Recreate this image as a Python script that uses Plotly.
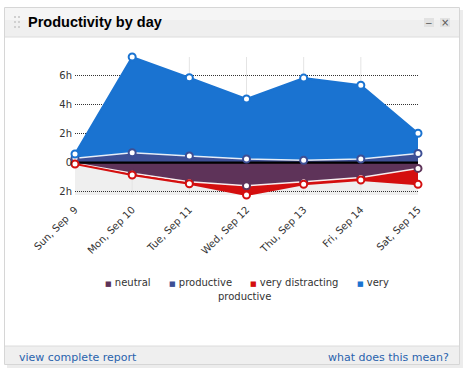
import plotly.graph_objects as go

# ---- data (hours) ----
days = ["Sun, Sep\u00a0 9", "Mon, Sep 10", "Tue, Sep 11", "Wed, Sep 12",
        "Thu, Sep 13", "Fri, Sep 14", "Sat, Sep 15"]
neutral = [0.05, 0.74, 1.33, 1.60, 1.33, 1.03, 0.40]
productive = [0.30, 0.69, 0.46, 0.25, 0.16, 0.25, 0.64]
very_distracting = [0.05, 0.12, 0.13, 0.64, 0.17, 0.17, 1.10]
very_productive = [0.30, 6.62, 5.42, 4.15, 5.69, 5.11, 1.39]
ytick_vals = [-2, 0, 2, 4, 6]
ytick_text = ["2h", "0", "2h", "4h", "6h"]

C_NEU = "#5e3359"
C_PRO = "#3d4f95"
C_VD = "#d40f0f"
C_VP = "#1a73d1"

# stacked cumulative values
pos1 = productive
pos2 = [a + b for a, b in zip(productive, very_productive)]
neg1 = [-a for a in neutral]
neg2 = [-(a + b) for a, b in zip(neutral, very_distracting)]
zero = [0 for _ in days]

W, H = 466, 374
L, R, T, B = 75, 48, 57, 179
PW, PH = W - L - R, H - T - B


def px(x):
    return (x - L) / PW


def py(y):
    return (H - B - y) / PH


fig = go.Figure()
# areas
fig.add_trace(go.Scatter(x=days, y=pos1, mode="lines", fill="tozeroy",
                         fillcolor=C_PRO, line=dict(color="rgba(255,255,255,0.85)", width=1.5)))
fig.add_trace(go.Scatter(x=days, y=pos2, mode="lines", fill="tonexty",
                         fillcolor=C_VP, line=dict(color=C_VP, width=2)))
fig.add_trace(go.Scatter(x=days, y=neg1, mode="lines", fill="tozeroy",
                         fillcolor=C_NEU, line=dict(color="rgba(255,255,255,0.9)", width=1.5)))
fig.add_trace(go.Scatter(x=days, y=neg2, mode="lines", fill="tonexty",
                         fillcolor=C_VD, line=dict(color=C_VD, width=2)))
# zero line
fig.add_trace(go.Scatter(x=days, y=zero, mode="lines", line=dict(color="#000", width=2.2)))
# markers
for ys, c in [(neg1, C_NEU), (pos1, C_PRO), (neg2, C_VD), (pos2, C_VP)]:
    fig.add_trace(go.Scatter(x=days, y=ys, mode="markers", cliponaxis=False,
                             marker=dict(size=7, color="white", line=dict(color=c, width=2))))

shapes = []
# grey band below zero
shapes.append(dict(type="rect", xref="x domain", yref="y", x0=0, x1=1,
                   y0=min(neg2), y1=0, fillcolor="#efefef", line=dict(width=0), layer="below"))
# vertical grid lines (interior categories)
for d in days[1:-1]:
    shapes.append(dict(type="line", xref="x", yref="y domain", x0=d, x1=d, y0=0, y1=1,
                       line=dict(color="#e4e4e4", width=1), layer="below"))

# card chrome
def prect(x0, y0, x1, y1, fill, line=None, layer="below"):
    d = dict(type="rect", xref="paper", yref="paper", x0=px(x0), x1=px(x1),
             y0=py(y1), y1=py(y0), fillcolor=fill, layer=layer)
    d["line"] = line if line else dict(width=0)
    return d

shapes.append(prect(459, 10, 463, 367, "#ececec"))
shapes.append(prect(7, 364, 463, 368, "#ececec"))
shapes.append(prect(5, 8, 459, 37, "#efefef"))
shapes.append(prect(5, 8, 459, 20, "#f5f5f5"))
shapes.append(prect(5, 346, 459, 364, "#efefef"))
shapes.append(prect(4.5, 7.5, 459.5, 364.5, "rgba(0,0,0,0)", dict(color="#d6d6d6", width=1)))
shapes.append(dict(type="line", xref="paper", yref="paper", x0=px(5), x1=px(459),
                   y0=py(37), y1=py(37), line=dict(color="#dcdcdc", width=1)))
shapes.append(dict(type="line", xref="paper", yref="paper", x0=px(5), x1=px(459),
                   y0=py(346), y1=py(346), line=dict(color="#dcdcdc", width=1)))
# handle dots
for hx in (14, 18):
    for hy in (16, 21, 26):
        shapes.append(prect(hx, hy, hx + 2, hy + 2, "#d0d0d0"))
# header buttons
shapes.append(prect(424, 18, 434, 27, "#e2e2e2"))
shapes.append(prect(440, 18, 450, 27, "#e2e2e2"))

ann = []
def text(x, y, s, size=10, color="#333", family="DejaVu Sans", xa="left", ya="middle", **kw):
    ann.append(dict(xref="paper", yref="paper", x=px(x), y=py(y), text=s, showarrow=False,
                    xanchor=xa, yanchor=ya, font=dict(size=size, color=color, family=family), **kw))

text(26, 22, "<b>Productivity by day</b>", size=14.5, color="#000", family="Liberation Sans, Arial")
text(429, 22.5, "\u2212", size=9, color="#555", xa="center")
text(445, 22.5, "\u00d7", size=10, color="#555", xa="center")

legend_items = [("neutral", C_NEU, 103), ("productive", C_PRO, 167),
                ("very distracting", C_VD, 248), ("very", C_VP, 355)]
for name, c, x in legend_items:
    text(x, 282, f'<span style="color:{c};font-size:7px">\u25a0</span> {name}', size=10)
text(244, 296, "productive", size=10, xa="center")

text(17, 357, "view complete report", size=11, color="#2a63ad")
text(451, 357, "what does this mean?", size=11, color="#2a63ad", xa="right")

fig.update_layout(
    width=W, height=H,
    margin=dict(l=L, r=R, t=T, b=B, pad=0),
    paper_bgcolor="white", plot_bgcolor="rgba(0,0,0,0)",
    showlegend=False,
    shapes=shapes, annotations=ann,
    xaxis=dict(type="category", range=[0, len(days) - 1], showgrid=False, zeroline=False,
               showline=False, ticks="", tickangle=-45,
               tickfont=dict(family="DejaVu Sans", size=10, color="#333"), ticklabelstandoff=6),
    yaxis=dict(range=[min(neg2), max(pos2)], tickvals=ytick_vals, ticktext=ytick_text,
               showgrid=True, gridcolor="#333", griddash="1px,1px", gridwidth=1,
               zeroline=False, showline=False, ticks="",
               tickfont=dict(family="DejaVu Sans", size=10, color="#333"), ticklabelstandoff=2),
)

fig.write_html("out.html", config={"displayModeBar": False},
               post_script="document.body.style.margin='0';document.body.style.padding='0';")
